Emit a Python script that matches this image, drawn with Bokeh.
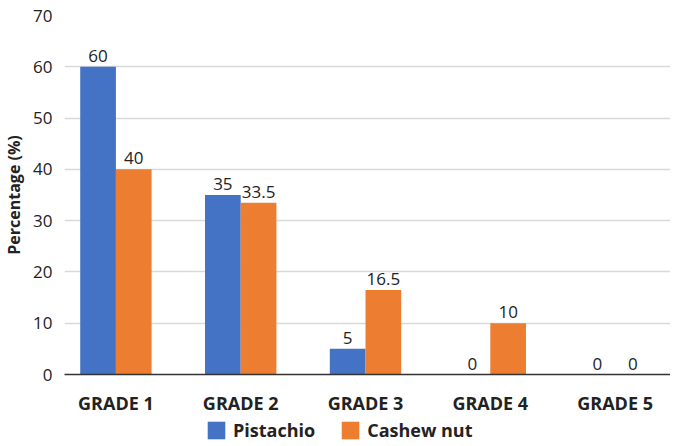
from bokeh.plotting import figure
from bokeh.layouts import column
from bokeh.models import ColumnDataSource, Range1d, Legend, LegendItem, FixedTicker, LabelSet
from bokeh.core.properties import value
from bokeh.embed import file_html
from bokeh.resources import INLINE

grades = ["GRADE 1", "GRADE 2", "GRADE 3", "GRADE 4", "GRADE 5"]
pistachio = [60, 35, 5, 0, 0]
cashew = [40, 33.5, 16.5, 10, 0]
series_names = ["Pistachio", "Cashew nut"]
colors = ["#4472C4", "#ED7D31"]

FONT = "Open Sans"
idx = list(range(len(grades)))
off = 0.143
bw = 0.286

def fmt(v):
    return str(int(v)) if float(v).is_integer() else str(v)

src_p = ColumnDataSource(dict(x=[i - off for i in idx], top=pistachio, lab=[fmt(v) for v in pistachio]))
src_c = ColumnDataSource(dict(x=[i + off for i in idx], top=cashew, lab=[fmt(v) for v in cashew]))

p = figure(width=670, height=417, output_backend="svg", toolbar_location=None,
           x_range=Range1d(-0.412, 4.444), y_range=Range1d(0, 70),
           min_border_left=63, min_border_top=15, min_border_right=0,
           min_border_bottom=36)
p.outline_line_color = None
p.background_fill_color = "white"

r1 = p.vbar(x="x", top="top", width=bw, source=src_p, color=colors[0], line_color=None)
r2 = p.vbar(x="x", top="top", width=bw, source=src_c, color=colors[1], line_color=None)

for s in (src_p, src_c):
    p.add_layout(LabelSet(x="x", y="top", text="lab", source=s, y_offset=5,
                          text_align="center", text_baseline="bottom",
                          text_font=value(FONT), text_font_size="17px", text_color="#222222"))

p.xaxis.ticker = FixedTicker(ticks=idx)
p.xaxis.major_label_overrides = {i: g for i, g in enumerate(grades)}
p.xaxis.major_label_text_font = FONT
p.xaxis.major_label_text_font_style = "bold"
p.xaxis.major_label_text_font_size = "18px"
p.xaxis.major_label_text_color = "#222222"
p.xaxis.major_tick_line_color = None
p.xaxis.minor_tick_line_color = None
p.xaxis.axis_line_color = "#333333"
p.xaxis.axis_line_width = 1.5
p.xaxis.major_label_standoff = 10

p.yaxis.ticker = FixedTicker(ticks=list(range(0, 71, 10)))
p.yaxis.major_label_text_font = FONT
p.yaxis.major_label_text_font_size = "17px"
p.yaxis.major_label_text_color = "#222222"
p.yaxis.major_tick_line_color = None
p.yaxis.minor_tick_line_color = None
p.yaxis.axis_line_color = None
p.yaxis.axis_label = "Percentage (%)"
p.yaxis.axis_label_text_font = FONT
p.yaxis.axis_label_text_font_style = "bold"
p.yaxis.axis_label_text_font_size = "16px"
p.yaxis.axis_label_text_color = "#222222"
p.yaxis.axis_label_standoff = 5
p.yaxis.major_label_standoff = 6

p.xgrid.grid_line_color = None
p.ygrid.grid_line_color = "#D9D9D9"
p.ygrid.grid_line_width = 1.5

# legend row as a separate small figure (dummy zero-height bars, only used for the legend swatches)
lf = figure(width=670, height=29, output_backend="svg", toolbar_location=None,
            x_range=Range1d(0, 1), y_range=Range1d(0, 1),
            x_axis_type=None, y_axis_type=None, min_border=0)
lf.outline_line_color = None
lf.grid.visible = False
dummy = ColumnDataSource(dict(x=[0.5], top=[0]))
d1 = lf.vbar(x="x", top="top", width=0.0, source=dummy, color=colors[0], line_color=None)
d2 = lf.vbar(x="x", top="top", width=0.0, source=dummy, color=colors[1], line_color=None)
legend = Legend(items=[LegendItem(label=series_names[0], renderers=[d1]),
                       LegendItem(label=series_names[1], renderers=[d2])],
                orientation="horizontal", location=(141, 4),
                label_text_font=FONT, label_text_font_style="bold",
                label_text_font_size="18px", label_text_color="#222222",
                glyph_width=22, glyph_height=22, spacing=24, padding=0, margin=0,
                label_standoff=6, label_height=22,
                border_line_color=None, background_fill_alpha=0)
lf.add_layout(legend)

layout = column(p, lf, spacing=0)
open("out.html", "w").write(file_html(layout, INLINE))
